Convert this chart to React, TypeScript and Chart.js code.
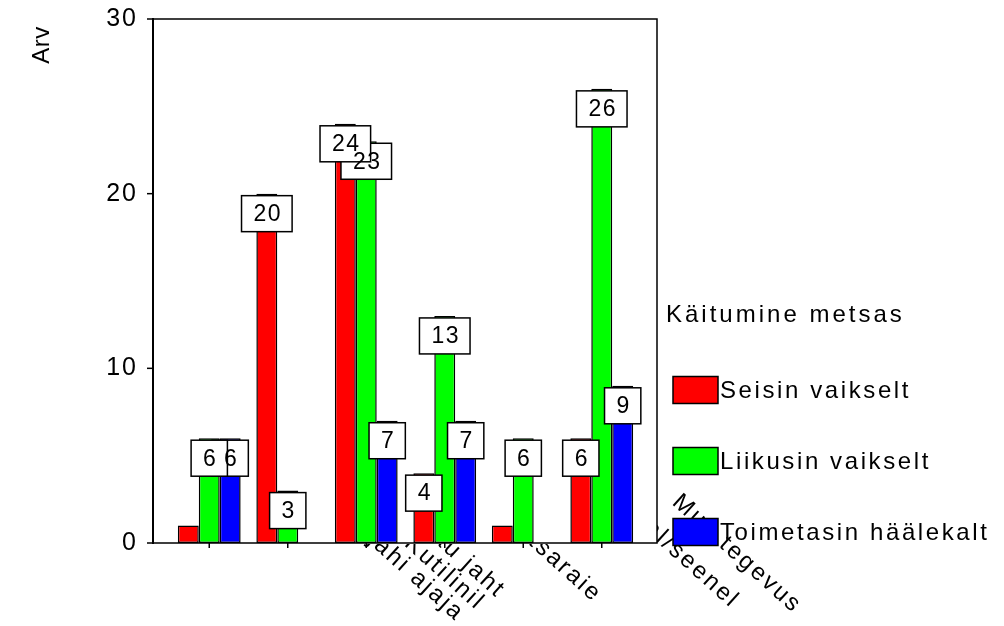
import { useEffect, useRef } from "react";
import { Chart, registerables } from "chart.js";

Chart.register(...registerables);

// ---- data ----
const categories = ["jahi ajaja", "Kutilinil", "au jaht", "tsaraie", "al/seenel", "Muu tegevus"];
const seisinVaikselt = [1, 20, 24, 4, 1, 6];
const liikusinVaikselt = [6, 3, 23, 13, 6, 26];
const toimetasinHaalekalt = [6, 0, 7, 7, 0, 9];
const seriesNames = ["Seisin vaikselt", "Liikusin vaikselt", "Toimetasin häälekalt"];
const seriesColors = ["#ff0000", "#00ff00", "#0000ff"];
const legendTitle = "Käitumine metsas";
const yTickValues = [0, 10, 20, 30];
const yTitle = "Arv";

// ---- layout (not data) ----
const W = 1004;
const H = 626;
const FONT = 'Arial, "Liberation Sans", sans-serif';
const FRAME_PAD_L = 17;
const FRAME_PAD_R = 16;
const LABEL_END_OFFSETS: [number, number][] = [
  [247, 79],
  [189, 68],
  [131, 56],
  [149, 60],
  [208, 66],
  [192, 71],
];
const LABEL_ANGLE = (42 * Math.PI) / 180;

const overlayPlugin = {
  id: "spssOverlay",
  beforeDraw(chart: any) {
    const ctx = chart.ctx;
    ctx.letterSpacing = "2px";
  },
  afterDraw(chart: any) {
    const ctx = chart.ctx as CanvasRenderingContext2D & { letterSpacing: string };
    const { left, right, top, bottom } = chart.chartArea;
    const xs = chart.scales.x;
    const ys = chart.scales.y;
    const fL = left - FRAME_PAD_L;
    const fR = right + FRAME_PAD_R;

    ctx.save();
    // category labels, clipped outside plot rectangle
    ctx.save();
    ctx.beginPath();
    ctx.rect(0, 0, W, H);
    ctx.rect(fL, top, fR - fL, bottom - top + 1);
    ctx.clip("evenodd");
    ctx.fillStyle = "#000";
    ctx.font = `24px ${FONT}`;
    ctx.letterSpacing = "2.5px";
    ctx.textAlign = "right";
    ctx.textBaseline = "alphabetic";
    categories.forEach((c, i) => {
      const tx = xs.getPixelForValue(i);
      const [dx, dy] = LABEL_END_OFFSETS[i];
      ctx.save();
      ctx.translate(tx + dx, bottom + dy);
      ctx.rotate(LABEL_ANGLE);
      ctx.fillText(c, 0, 0);
      ctx.restore();
    });
    ctx.restore();

    // data labels: boxes (last series first so earlier series sit on top), then texts
    ctx.font = `23px ${FONT}`;
    ctx.letterSpacing = "1.5px";
    ctx.textAlign = "center";
    ctx.textBaseline = "middle";
    const boxH = 36;
    const texts: { t: string; x: number; y: number }[] = [];
    for (let d = chart.data.datasets.length - 1; d >= 0; d--) {
      const meta = chart.getDatasetMeta(d);
      const values = chart.data.datasets[d].data as number[];
      meta.data.forEach((el: any, i: number) => {
        const v = values[i];
        const barH = el.base - el.y;
        if (!v || barH < boxH + 2) return;
        const txt = String(v);
        const w = ctx.measureText(txt).width + 22;
        const bx = el.x - w / 2;
        const by = el.y + 2;
        ctx.fillStyle = "#fff";
        ctx.fillRect(bx, by, w, boxH);
        ctx.lineWidth = 1.5;
        ctx.strokeStyle = "#000";
        ctx.strokeRect(bx, by, w, boxH);
        texts.push({ t: txt, x: el.x + 1, y: by + boxH / 2 + 1 });
      });
    }
    ctx.fillStyle = "#000";
    texts.forEach((o) => ctx.fillText(o.t, o.x, o.y));

    // frame and axes
    ctx.strokeStyle = "#000";
    ctx.lineWidth = 1.5;
    ctx.beginPath();
    ctx.moveTo(fL, top);
    ctx.lineTo(fR, top);
    ctx.lineTo(fR, bottom);
    ctx.lineTo(fL, bottom);
    ctx.stroke();
    ctx.lineWidth = 2;
    ctx.beginPath();
    ctx.moveTo(fL, top - 1);
    ctx.lineTo(fL, bottom + 1);
    ctx.stroke();
    ctx.lineWidth = 1.5;
    yTickValues.forEach((v) => {
      const y = ys.getPixelForValue(v);
      ctx.beginPath();
      ctx.moveTo(fL - 6, y);
      ctx.lineTo(fL, y);
      ctx.stroke();
    });
    categories.forEach((_, i) => {
      const x = xs.getPixelForValue(i);
      ctx.beginPath();
      ctx.moveTo(x, bottom);
      ctx.lineTo(x, bottom + 5);
      ctx.stroke();
    });

    // y title
    ctx.save();
    ctx.font = `24px ${FONT}`;
    ctx.letterSpacing = "0.5px";
    ctx.fillStyle = "#000";
    ctx.translate(42, 45);
    ctx.rotate(-Math.PI / 2);
    ctx.textAlign = "center";
    ctx.textBaseline = "middle";
    ctx.fillText(yTitle, 0, 0);
    ctx.restore();

    // legend
    ctx.font = `24px ${FONT}`;
    ctx.textAlign = "left";
    ctx.textBaseline = "middle";
    ctx.fillStyle = "#000";
    ctx.letterSpacing = "3px";
    ctx.fillText(legendTitle, 666, 315);
    ctx.letterSpacing = "2.6px";
    seriesNames.forEach((name, i) => {
      const cy = 390 + i * 71;
      ctx.fillStyle = seriesColors[i];
      ctx.fillRect(673, cy - 13.5, 45, 27);
      ctx.lineWidth = 1.5;
      ctx.strokeStyle = "#000";
      ctx.strokeRect(673, cy - 13.5, 45, 27);
      ctx.fillStyle = "#000";
      ctx.fillText(name, 720, cy + 1);
    });
    ctx.restore();
  },
};

export default function App() {
  const ref = useRef<HTMLCanvasElement | null>(null);
  useEffect(() => {
    const canvas = ref.current;
    if (!canvas) return;
    const series = [seisinVaikselt, liikusinVaikselt, toimetasinHaalekalt];
    const chart = new Chart(canvas, {
      type: "bar",
      data: {
        labels: categories,
        datasets: series.map((data, i) => ({
          label: seriesNames[i],
          data,
          backgroundColor: seriesColors[i],
          borderColor: "#000",
          borderWidth: 1.5,
          borderSkipped: false,
        })),
      },
      options: {
        animation: false,
        responsive: false,
        devicePixelRatio: 1,
        layout: { padding: { top: 19, bottom: 83, right: 363, left: 0 } },
        datasets: { bar: { categoryPercentage: 0.8, barPercentage: 1.0 } },
        scales: {
          x: { display: false, offset: true },
          y: {
            min: 0,
            max: 30,
            afterFit: (s: any) => {
              s.width = 170;
              s.paddingTop = 0;
              s.paddingBottom = 0;
            },
            grid: { display: false, drawTicks: false },
            border: { display: false },
            ticks: {
              stepSize: 10,
              padding: 32,
              color: "#000",
              font: { family: FONT, size: 25 },
            },
          },
        },
        plugins: { legend: { display: false }, tooltip: { enabled: false } },
      } as any,
      plugins: [overlayPlugin],
    });
    return () => chart.destroy();
  }, []);
  return (
    <div style={{ position: "fixed", left: 0, top: 0, width: W, height: H, background: "#fff" }}>
      <canvas ref={ref} width={W} height={H} style={{ width: W, height: H, display: "block" }} />
    </div>
  );
}
